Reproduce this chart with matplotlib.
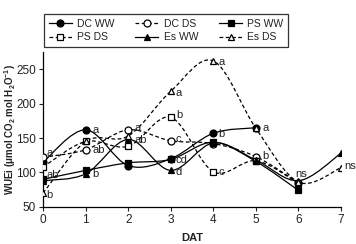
import numpy as np
import matplotlib
matplotlib.use("Agg")
import matplotlib.pyplot as plt
from matplotlib.path import Path
from matplotlib.patches import PathPatch
from matplotlib.lines import Line2D

plt.rcParams['font.family'] = ['Liberation Sans Narrow', 'Liberation Sans', 'DejaVu Sans']
plt.rcParams['text.color'] = '#222222'
plt.rcParams['axes.labelcolor'] = '#222222'
plt.rcParams['xtick.color'] = '#222222'
plt.rcParams['ytick.color'] = '#222222'
plt.rcParams['mathtext.default'] = 'regular'

# Days after treatment
days = [0, 1, 2, 3, 4, 5, 6, 7]

# WUEi series (NaN = not measured)
nan = np.nan
dc_ww = [115, 162, 110, 120, 157, 165, nan, nan]
dc_ds = [122, 133, 162, 146, 142, 123, 85, nan]
ps_ww = [90, 103, 114, 119, 144, 116, 74, nan]
ps_ds = [108, 145, 138, 180, 101, 117, 84, nan]
es_ww = [88, 98, 148, 103, 143, 118, 88, 128]
es_ds = [70, 145, 153, 218, 262, 164, 86, 107]

# significance letters: (day, value, letter)
letters = [
    (0, 128, 'a'), (0, 96, 'ab'), (0, 68, 'b'),
    (1, 162, 'a'), (1, 132, 'ab'), (1, 98, 'b'),
    (2, 164, 'a'), (2, 147, 'ab'),
    (3, 216, 'a'), (3, 184, 'b'), (3, 148, 'c'), (3, 118, 'cd'), (3, 101, 'd'),
    (4, 261, 'a'), (4, 156, 'b'), (4, 101, 'c'),
    (5, 165, 'a'), (5, 124, 'b'),
    (6, 98, 'ns'), (7, 110, 'ns'),
]
letter_dx = {0: 0.08, 1: 0.15, 2: 0.15, 3: 0.12, 4: 0.12, 5: 0.15, 6: -0.08, 7: 0.08}


def smooth_path(xs, ys):
    # bezier through points, Excel-like smoothing
    xs = np.asarray(xs, float)
    ys = np.asarray(ys, float)
    ok = ~np.isnan(ys)
    xs, ys = xs[ok], ys[ok]
    pts = np.column_stack([xs, ys])
    n = len(pts)
    verts = [pts[0]]
    codes = [Path.MOVETO]
    for i in range(n - 1):
        p_prev = pts[i - 1] if i > 0 else pts[i]
        p_next2 = pts[i + 2] if i + 2 < n else pts[i + 1]
        c1 = pts[i] + (pts[i + 1] - p_prev) / 6
        c2 = pts[i + 1] - (p_next2 - pts[i]) / 6
        verts += [c1, c2, pts[i + 1]]
        codes += [Path.CURVE4] * 3
    return Path(verts, codes)


series = [
    ('DC WW', dc_ww, '-', 'o', 'black'),
    ('DC DS', dc_ds, '--', 'o', 'white'),
    ('PS WW', ps_ww, '-', 's', 'black'),
    ('PS DS', ps_ds, '--', 's', 'white'),
    ('Es WW', es_ww, '-', '^', 'black'),
    ('Es DS', es_ds, '--', '^', 'white'),
]

fig = plt.figure(figsize=(3.56, 2.44), dpi=100)
ax = fig.add_axes([0.121, 0.152, 0.837, 0.635])

handles = {}
for name, vals, ls, mk, fc in series:
    dashes = (0, (3, 2)) if ls == '--' else '-'
    patch = PathPatch(smooth_path(days, vals), fill=False, edgecolor='black',
                      linewidth=0.9, linestyle=dashes, zorder=2)
    ax.add_patch(patch)
    ax.plot(days, vals, linestyle='none', marker=mk, markersize=5,
            markerfacecolor=fc, markeredgecolor='black', markeredgewidth=0.9, zorder=3)
    handles[name] = Line2D([], [], color='black', linewidth=0.9,
                           linestyle=(0, (3, 2)) if ls == '--' else '-',
                           marker=mk, markersize=5, markerfacecolor=fc,
                           markeredgecolor='black', markeredgewidth=0.9)

for d, v, t in letters:
    ax.text(d + letter_dx[d], v, t, fontsize=8, ha='left', va='center')

ax.set_xlim(0, 7)
ax.set_ylim(50, 275)
ax.set_xticks(days)
ax.set_yticks([50, 100, 150, 200, 250])
ax.tick_params(labelsize=8.5, length=3, width=0.8, direction='out', pad=2)
for s in ['top', 'right']:
    ax.spines[s].set_visible(False)
for s in ['left', 'bottom']:
    ax.spines[s].set_linewidth(0.9)

ax.set_xlabel('DAT', fontsize=8, fontweight='bold', labelpad=5)
ax.set_ylabel(r'WUEi ($\mu$mol CO$_2$ mol H$_2$O$^{-1}$)', fontsize=7,
              fontweight='bold')
ax.yaxis.set_label_coords(-0.085, 0.5)

order = ['DC WW', 'PS DS', 'DC DS', 'Es WW', 'PS WW', 'Es DS']
leg = fig.legend([handles[k] for k in order], order, ncol=3,
                 loc='lower left', bbox_to_anchor=(0.124, 0.807, 0.685, 0.152),
                 mode='expand', fontsize=7.5, frameon=True, fancybox=False,
                 edgecolor='black', handlelength=2.2, handletextpad=0.5,
                 columnspacing=0.8, borderaxespad=0, labelspacing=0.35,
                 borderpad=0.45)
leg.get_frame().set_linewidth(0.9)

fig.savefig('out.png', dpi=100)
